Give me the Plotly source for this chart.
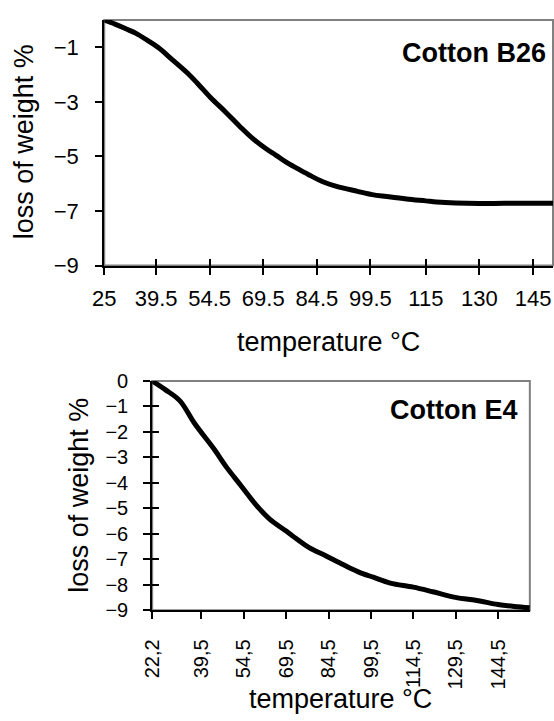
import plotly.graph_objects as go

# ---------------- data ----------------
# Cotton B26 (top panel)
b26_temp = [25, 28, 31, 33.9, 37, 40.2, 44, 48.5, 51.5, 54.8, 59, 63, 66.5, 70.4, 73.1,
            75.8, 79, 82.2, 86, 90, 95.9, 100, 104, 109.6, 115, 118, 123.3, 130, 137, 144, 150.6]
b26_loss = [0, -0.15, -0.32, -0.49, -0.74, -1.02, -1.45, -1.97, -2.38, -2.85, -3.38, -3.91, -4.34,
            -4.73, -4.96, -5.2, -5.44, -5.67, -5.92, -6.1, -6.28, -6.4, -6.47, -6.56, -6.63, -6.67,
            -6.71, -6.73, -6.72, -6.72, -6.72]
b26_ticks = [25, 39.5, 54.5, 69.5, 84.5, 99.5, 115, 130, 145]
b26_ticklabels = ["25", "39.5", "54.5", "69.5", "84.5", "99.5", "115", "130", "145"]
b26_yticks = [-9, -7, -5, -3, -1]

# Cotton E4 (bottom panel)
e4_temp = [22.2, 26.8, 32.0, 37.2, 44.1, 48.5, 53.3, 59.1, 63.7, 69.4, 71.7, 77.5, 83.3, 89.0,
           94.8, 100.5, 106.3, 114.4, 121.3, 129.3, 137.4, 144.3, 150.1, 155.6]
e4_loss = [0, -0.34, -0.78, -1.67, -2.68, -3.39, -4.07, -4.89, -5.42, -5.88, -6.07, -6.53, -6.85,
           -7.17, -7.48, -7.71, -7.93, -8.09, -8.27, -8.49, -8.62, -8.77, -8.85, -8.90]
e4_ticks = [22.2, 39.5, 54.5, 69.5, 84.5, 99.5, 114.5, 129.5, 144.5]
e4_ticklabels = ["22,2", "39,5", "54,5", "69,5", "84,5", "99,5", "114,5", "129,5", "144,5"]
e4_yticks = [0, -1, -2, -3, -4, -5, -6, -7, -8, -9]

W, H = 554, 721
FONT = "Liberation Sans, Arial, sans-serif"

def px(x):
    return x / W

def py(y):
    return 1 - y / H

fig = go.Figure()

# main traces
fig.add_trace(go.Scatter(x=b26_temp, y=b26_loss, mode="lines", line=dict(color="black", width=5, shape="spline"),
                         xaxis="x", yaxis="y", showlegend=False, hoverinfo="skip"))
fig.add_trace(go.Scatter(x=e4_temp, y=e4_loss, mode="lines", line=dict(color="black", width=5, shape="spline"),
                         xaxis="x2", yaxis="y2", showlegend=False, hoverinfo="skip"))
# empty traces for overlay tick axes
fig.add_trace(go.Scatter(x=[None], y=[None], xaxis="x3", yaxis="y", showlegend=False, hoverinfo="skip"))
fig.add_trace(go.Scatter(x=[None], y=[None], xaxis="x2", yaxis="y3", showlegend=False, hoverinfo="skip"))

dom_x1 = [px(94.3), px(553)]
dom_y1 = [py(263.3), py(9.3)]
dom_x2 = [px(143.3), px(529.3)]
dom_y2 = [py(620), py(382.7)]

rng_x1 = [25, 150.6]
rng_x2 = [22.2, 155.6]

axis_common = dict(showgrid=False, zeroline=False, showline=True, linecolor="black", linewidth=2,
                   tickcolor="black", tickwidth=1.5, ticklen=7)

fig.update_layout(
    width=W, height=H, margin=dict(l=0, r=0, t=0, b=0),
    paper_bgcolor="white", plot_bgcolor="white",
    font=dict(family=FONT, color="black"),
    xaxis=dict(domain=dom_x1, anchor="y", range=rng_x1, tickmode="array", tickvals=b26_ticks,
               ticktext=b26_ticklabels, ticks="outside", tickfont=dict(size=22), ticklabelstandoff=5,
               **axis_common),
    xaxis3=dict(domain=dom_x1, anchor="y", overlaying="x", matches="x", range=rng_x1, tickmode="array",
                tickvals=b26_ticks, ticks="inside", showticklabels=False, showgrid=False, zeroline=False,
                showline=False, tickcolor="black", tickwidth=1.5, ticklen=7),
    yaxis=dict(domain=dom_y1, anchor="x", range=[-9, 0], tickmode="array", tickvals=b26_yticks,
               ticks="outside", tickfont=dict(size=22), ticklabelstandoff=12, **axis_common),
    xaxis2=dict(domain=dom_x2, anchor="y2", range=rng_x2, tickmode="array", tickvals=e4_ticks,
                ticktext=e4_ticklabels, ticks="outside", tickangle=-90, tickfont=dict(size=20),
                ticklabelstandoff=12, **axis_common),
    yaxis2=dict(domain=dom_y2, anchor="x2", range=[-9, 0], tickmode="array", tickvals=e4_yticks,
                ticks="outside", tickfont=dict(size=20), ticklabelstandoff=11, **axis_common),
    yaxis3=dict(domain=dom_y2, anchor="x2", overlaying="y2", matches="y2", range=[-9, 0], tickmode="array",
                tickvals=e4_yticks, ticks="inside", showticklabels=False, showgrid=False, zeroline=False,
                showline=False, tickcolor="black", tickwidth=1.5, ticklen=7),
)

# grey frames (top and right borders)
for xr, yr in (("x domain", "y domain"), ("x2 domain", "y2 domain")):
    fig.add_shape(type="rect", xref=xr, yref=yr, x0=0, x1=1, y0=0, y1=1,
                  line=dict(color="#808080", width=2), layer="below")

title_font = dict(family=FONT, size=27, color="black")
anns = [
    dict(text="loss of weight %", x=px(12), y=py(135), textangle=-90),
    dict(text="temperature °C", x=px(324), y=py(342)),
    dict(text="loss of weight %", x=px(69), y=py(501), textangle=-90),
    dict(text="temperature °C", x=px(336), y=py(712)),
]
for a in anns:
    fig.add_annotation(xref="paper", yref="paper", xanchor="center", yanchor="middle",
                       showarrow=False, font=title_font, **a)

fig.add_annotation(text="<b>Cotton B26</b>", xref="paper", yref="paper", x=px(548), y=py(43),
                   xanchor="right", yanchor="middle", showarrow=False,
                   font=dict(family=FONT, size=27, color="black"))
fig.add_annotation(text="<b>Cotton E4</b>", xref="paper", yref="paper", x=px(519), y=py(413),
                   xanchor="right", yanchor="middle", showarrow=False,
                   font=dict(family=FONT, size=27, color="black"))

fig.write_html("out.html")
